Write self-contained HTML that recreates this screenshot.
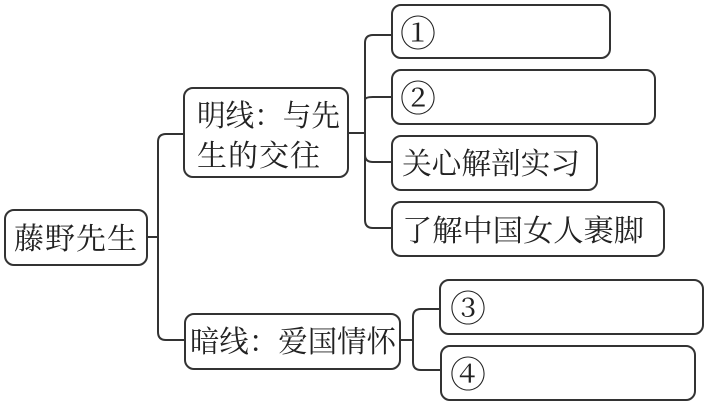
<!DOCTYPE html>
<html><head><meta charset="utf-8"><style>
html,body{margin:0;padding:0;background:#fff;}
svg text{font-family:"Liberation Serif","Noto Serif CJK SC","Noto Sans CJK SC",serif;fill:#222;}
</style></head><body>
<svg width="709" height="404" viewBox="0 0 709 404" xmlns="http://www.w3.org/2000/svg">
<g fill="none" stroke="#333" stroke-width="2">
<rect x="5" y="210" width="142" height="55" rx="9"/>
<rect x="184" y="88" width="164" height="89" rx="9"/>
<rect x="185" y="314" width="215" height="55" rx="9"/>
<rect x="392" y="5" width="218" height="53" rx="9"/>
<rect x="392" y="70" width="263" height="54" rx="9"/>
<rect x="392" y="136" width="205" height="54" rx="9"/>
<rect x="392" y="202" width="272" height="54" rx="9"/>
<rect x="440" y="280" width="263" height="54" rx="9"/>
<rect x="441" y="346" width="254" height="54" rx="9"/>
<path d="M147 237 H158"/>
<path d="M184 134 H166 Q158 134 158 142 V332 Q158 340 166 340 H185"/>
<path d="M348 133 H365"/>
<path d="M392 35 H373 Q365 35 365 43 V220 Q365 228 373 228 H392"/>
<path d="M365 100 Q365 97 373 97 H392"/>
<path d="M365 155 Q365 162 373 162 H392"/>
<path d="M400 340 H413"/>
<path d="M440 309 H421 Q413 309 413 317 V362 Q413 370 421 370 H441"/>
</g>
<g font-size="30">
<text x="14" y="249" letter-spacing="1">藤野先生</text>
<text x="197" y="126" textLength="143" lengthAdjust="spacingAndGlyphs">明线：与先</text>
<text x="197" y="166" letter-spacing="1">生的交往</text>
<text x="190" y="352" textLength="206" lengthAdjust="spacingAndGlyphs">暗线：爱国情怀</text>
<text x="402" y="174" textLength="178" lengthAdjust="spacingAndGlyphs">关心解剖实习</text>
<text x="402" y="241" textLength="242" lengthAdjust="spacingAndGlyphs">了解中国女人裹脚</text>
</g>
<g font-size="36">
<text x="400" y="46">①</text>
<text x="400" y="111">②</text>
<text x="450" y="321">③</text>
<text x="450" y="387">④</text>
</g>
</svg>
</body></html>
